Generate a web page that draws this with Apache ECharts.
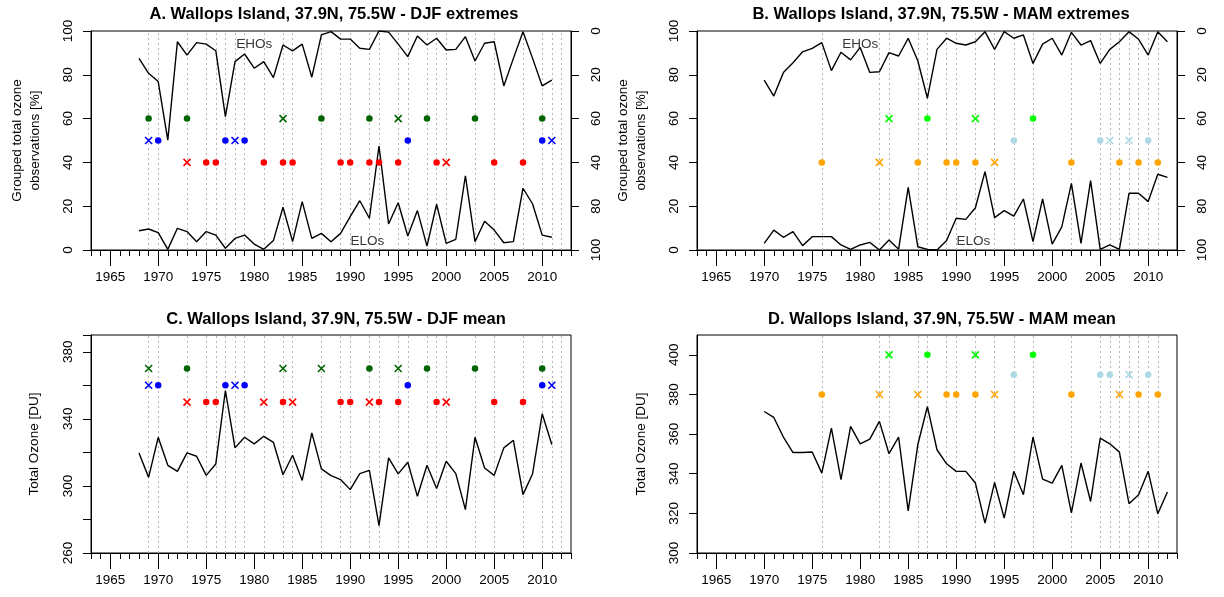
<!DOCTYPE html>
<html>
<head>
<meta charset="utf-8">
<script src="https://cdn.jsdelivr.net/npm/echarts@6/dist/echarts.min.js"></script>
<style>
html, body { margin: 0; padding: 0; background: #fff; }
#chart { width: 1224px; height: 597px; }
</style>
</head>
<body>
<div id="chart"></div>
<script>
// ---- Wallops Island total ozone: seasonal extremes and means ----

// Winter (DJF) seasons
const djfYears = [1968, 1969, 1970, 1971, 1972, 1973, 1974, 1975, 1976, 1977, 1978, 1979, 1980, 1981, 1982,
  1983, 1984, 1985, 1986, 1987, 1988, 1989, 1990, 1991, 1992, 1993, 1994, 1995, 1996, 1997, 1998, 1999,
  2000, 2001, 2002, 2003, 2004, 2005, 2006, 2007, 2008, 2009, 2010, 2011];
// extreme high ozone days, % (read on the inverted right-hand axis)
const djfEho = [12.5, 19.3, 23.1, 49.8, 4.9, 11, 5.3, 6, 9, 39.1, 14, 10.5, 17, 14, 21.3,
  6.4, 9.1, 6, 21.1, 1.8, 0.3, 3.7, 3.7, 7.9, 8.4, 0, 0.5, 6, 11.7, 2.3, 6.4, 3.3,
  8.7, 8.4, 2.6, 13.7, 5.6, 4.9, 25.1, 12.5, 0.3, 12.5, 25.1, 22.4];
// extreme low ozone days, %
const djfElo = [8.8, 9.6, 7.9, 0.3, 9.9, 8.4, 3.8, 8.4, 6.8, 0.8, 5.3, 6.8, 2.7, 0.3, 4.3,
  19.5, 3.8, 22.1, 5.3, 7.6, 3.8, 7.6, 15.2, 22.5, 14.5, 47.5, 11.9, 21.6, 6.4, 18.0, 1.8, 20.9,
  3.0, 4.9, 33.9, 3.8, 13.1, 9.1, 3.3, 3.8, 28.2, 21, 6.8, 5.8];
// seasonal mean total ozone, DU
const djfMean = [319.7, 305.1, 329, 312.3, 308.7, 319.7, 317.7, 306.3, 313.1, 356.9, 322.7, 329, 325.1, 329.6, 326,
  306.7, 318.3, 303.3, 331.6, 310.2, 306.1, 303.8, 297.8, 307.3, 309.3, 276.3, 316.7, 307.2, 314.1, 293.8, 312.3, 298.4,
  314.7, 307.3, 285.9, 329, 310.7, 306.3, 322.7, 327.2, 294.8, 307.3, 343, 324.7];

// Spring (MAM) seasons
const mamYears = [1970, 1971, 1972, 1973, 1974, 1975, 1976, 1977, 1978, 1979, 1980, 1981, 1982, 1983, 1984,
  1985, 1986, 1987, 1988, 1989, 1990, 1991, 1992, 1993, 1994, 1995, 1996, 1997, 1998, 1999,
  2000, 2001, 2002, 2003, 2004, 2005, 2006, 2007, 2008, 2009, 2010, 2011, 2012];
const mamEho = [22.4, 29.7, 19, 14.5, 9.5, 7.9, 5.3, 18.1, 9.7, 13.2, 7.5, 18.9, 18.6, 9.9, 11.4,
  3.3, 13.6, 30.7, 8.4, 3.3, 5.6, 6.4, 4.9, 0.3, 8.4, 0.3, 3.3, 1.8, 14.8, 6,
  3.3, 11, 0.6, 6.4, 4.4, 14.8, 8.4, 4.9, 0.3, 3.8, 11, 0.3, 4.9];
const mamElo = [3.0, 9.1, 5.8, 8.4, 2.0, 6.1, 6.1, 6.1, 2.3, 0.3, 2.3, 3.5, 0, 4.6, 0.3,
  28.6, 1.5, 0.3, 0, 4.3, 14.5, 14.0, 19.3, 35.8, 14.8, 18.0, 15.5, 23.3, 3.8, 23.3,
  2.7, 10.6, 30.4, 3.0, 31.7, 0.3, 2.3, 0.3, 25.9, 25.9, 22.1, 34.6, 33.2];
const mamMean = [371.4, 368.4, 358.5, 350.7, 350.7, 351, 340.3, 363, 337, 363.9, 355.1, 357.5, 366.4, 350.1, 358.5,
  321.3, 354.6, 373.9, 352.1, 345, 341.2, 341.2, 335.3, 315.1, 335.6, 317.6, 341.2, 329.4, 358.5, 337.3,
  335.3, 344.2, 320.2, 345.4, 326, 358, 355.1, 350.9, 324.9, 329.4, 341.2, 319.8, 330.8];

// Event years (dots = event, crosses = weaker signal)
const djfA = {
  greenDot: [1969, 1973, 1987, 1992, 1998, 2003, 2010], greenX: [1983, 1995],
  blueDot: [1970, 1977, 1979, 1996, 2010], blueX: [1969, 1978, 2011],
  redDot: [1975, 1976, 1981, 1983, 1984, 1989, 1990, 1992, 1993, 1995, 1999, 2005, 2008], redX: [1973, 2000]
};
const djfC = {
  greenDot: [1973, 1992, 1998, 2003, 2010], greenX: [1969, 1983, 1987, 1995],
  blueDot: [1970, 1977, 1979, 1996, 2010], blueX: [1969, 1978, 2011],
  redDot: [1975, 1976, 1983, 1989, 1990, 1993, 1995, 1999, 2005, 2008], redX: [1973, 1981, 1984, 1992, 2000]
};
const mamB = {
  greenDot: [1987, 1998], greenX: [1983, 1992],
  lblueDot: [1996, 2005, 2010], lblueX: [2006, 2008],
  orangeDot: [1976, 1986, 1989, 1990, 1992, 2002, 2007, 2009, 2011], orangeX: [1982, 1994]
};
const mamD = {
  greenDot: [1987, 1998], greenX: [1983, 1992],
  lblueDot: [1996, 2005, 2006, 2010], lblueX: [2008],
  orangeDot: [1976, 1989, 1990, 1992, 2002, 2009, 2011], orangeX: [1982, 1986, 1994, 2007]
};
// vertical guide years
const djfGuideYears = [1969, 1970, 1973, 1975, 1976, 1977, 1978, 1979, 1981, 1983, 1984, 1987, 1989, 1990,
  1992, 1993, 1995, 1996, 1998, 1999, 2000, 2003, 2005, 2008, 2010, 2011, 2012];
const mamGuideYears = [1976, 1982, 1983, 1986, 1987, 1989, 1990, 1992, 1994, 1996, 1998, 2002, 2005, 2006,
  2007, 2008, 2009, 2010, 2011];

const majorYears = [1965, 1970, 1975, 1980, 1985, 1990, 1995, 2000, 2005, 2010];
const rightTickLabels = { 0: '0', 20: '20', 40: '60', 60: '40', 80: '80', 100: '100' };
const cLabelled = [260, 300, 340, 380];

const titles = [
  'A. Wallops Island, 37.9N, 75.5W - DJF extremes',
  'B. Wallops Island, 37.9N, 75.5W - MAM extremes',
  'C. Wallops Island, 37.9N, 75.5W - DJF mean',
  'D. Wallops Island, 37.9N, 75.5W - MAM mean'
];

// ---- layout & styling ----
const FONT = 'Liberation Sans, Arial, Helvetica, sans-serif';
const FS = 13.5;
const grids = [
  { left: 91, top: 31, width: 480, height: 219 },
  { left: 697, top: 31, width: 480, height: 219 },
  { left: 91, top: 335, width: 480, height: 218 },
  { left: 697, top: 335, width: 480, height: 218 }
];
const COL = {
  darkgreen: '#006400', blue: '#0000ff', red: '#ff0000',
  green: '#00ff00', lblue: '#add8e6', orange: '#ffa500'
};
const CROSS = 'path://M0,0L10,10M0,10L10,0';
const blackLine = { color: '#000', width: 1 };

function xAxesFor(gi) {
  return [
    {
      type: 'value', gridIndex: gi, position: 'bottom', min: 1963, max: 2013, interval: 1,
      axisLine: { show: true, onZero: false, lineStyle: blackLine },
      axisTick: { show: true, length: 6, lineStyle: blackLine },
      axisLabel: { show: false }, splitLine: { show: false }
    },
    {
      type: 'value', gridIndex: gi, position: 'bottom', offset: 0, min: 1963, max: 2013,
      axisLine: { show: false, onZero: false },
      axisTick: { show: true, length: 16, customValues: majorYears, lineStyle: blackLine },
      axisLabel: {
        show: true, customValues: majorYears, margin: 20, fontSize: FS, color: '#000', fontFamily: FONT,
        formatter: v => String(v)
      },
      splitLine: { show: false }
    }
  ];
}

function yAxis(gi, o) {
  return Object.assign({
    type: 'value', gridIndex: gi, position: 'left',
    axisLine: { show: true, onZero: false, lineStyle: blackLine },
    axisTick: { show: true, length: 8, lineStyle: blackLine },
    axisLabel: { rotate: 90, margin: 16, fontSize: FS, color: '#000', fontFamily: FONT },
    splitLine: { show: false },
    nameLocation: 'middle', nameRotate: 90,
    nameTextStyle: { fontSize: FS, color: '#000', fontFamily: FONT, lineHeight: 18 }
  }, o);
}

const xAxes = [].concat(xAxesFor(0), xAxesFor(1), xAxesFor(2), xAxesFor(3));

const pctName = 'Grouped total ozone\nobservations [%]';
const yAxes = [
  // A left / right
  yAxis(0, { min: 0, max: 100, interval: 20, name: pctName, nameGap: 47 }),
  yAxis(0, {
    min: 0, max: 100, interval: 20, position: 'right', inverse: true,
    axisLabel: { rotate: 90, margin: 18, fontSize: FS, color: '#000', fontFamily: FONT,
      formatter: v => rightTickLabels[v] }
  }),
  // B left / right
  yAxis(1, { min: 0, max: 100, interval: 20, name: pctName, nameGap: 47 }),
  yAxis(1, {
    min: 0, max: 100, interval: 20, position: 'right', inverse: true,
    axisLabel: { rotate: 90, margin: 18, fontSize: FS, color: '#000', fontFamily: FONT,
      formatter: v => rightTickLabels[v] }
  }),
  // C
  yAxis(2, {
    min: 260, max: 390, interval: 20, name: 'Total Ozone [DU]', nameGap: 48,
    axisLabel: { rotate: 90, margin: 16, fontSize: FS, color: '#000', fontFamily: FONT,
      formatter: v => (cLabelled.indexOf(v) >= 0 ? String(v) : '') }
  }),
  // D
  yAxis(3, { min: 300, max: 410, interval: 20, name: 'Total Ozone [DU]', nameGap: 47 })
];

// ---- series helpers ----
const pairs = (xs, ys) => xs.map((x, i) => [x, ys[i]]);

function guides(xi, yi, yrs) {
  return {
    type: 'line', xAxisIndex: xi, yAxisIndex: yi, data: [], z: 1, silent: true,
    markLine: {
      z: 1, silent: true, symbol: ['none', 'none'], label: { show: false },
      lineStyle: { color: '#b4b4b4', type: [2, 3], width: 1 },
      emphasis: { disabled: true },
      data: yrs.map(y => ({ xAxis: y }))
    }
  };
}
function curve(xi, yi, data) {
  return {
    type: 'line', xAxisIndex: xi, yAxisIndex: yi, data, showSymbol: false, z: 3,
    lineStyle: { color: '#000', width: 1.4 }, silent: true
  };
}
function dots(xi, yi, yrs, level, color) {
  return {
    type: 'scatter', xAxisIndex: xi, yAxisIndex: yi, symbol: 'circle', symbolSize: 6.5, z: 6,
    itemStyle: { color, opacity: 1 }, data: yrs.map(y => [y, level]), silent: true
  };
}
function crosses(xi, yi, yrs, level, color) {
  return {
    type: 'scatter', xAxisIndex: xi, yAxisIndex: yi, symbol: CROSS, symbolSize: 7, z: 6,
    itemStyle: { color: 'rgba(0,0,0,0)', borderColor: color, borderWidth: 1.6, opacity: 1 },
    data: yrs.map(y => [y, level]), silent: true
  };
}
function tag(xi, yi, x, y, text) {
  return {
    type: 'scatter', xAxisIndex: xi, yAxisIndex: yi, symbolSize: 0, z: 7, silent: true,
    data: [[x, y]],
    label: { show: true, position: 'inside', formatter: text, fontSize: FS, color: '#000', fontFamily: FONT }
  };
}

const series = [
  // A: DJF extremes (x axis 0, left y 0, right y 1)
  guides(0, 0, djfGuideYears),
  curve(0, 1, pairs(djfYears, djfEho)),
  curve(0, 0, pairs(djfYears, djfElo)),
  dots(0, 0, djfA.greenDot, 60, COL.darkgreen), crosses(0, 0, djfA.greenX, 60, COL.darkgreen),
  dots(0, 0, djfA.blueDot, 50, COL.blue), crosses(0, 0, djfA.blueX, 50, COL.blue),
  dots(0, 0, djfA.redDot, 40, COL.red), crosses(0, 0, djfA.redX, 40, COL.red),
  tag(0, 0, 1980, 94, 'EHOs'), tag(0, 0, 1991.8, 4.2, 'ELOs'),

  // B: MAM extremes (x axis 2, left y 2, right y 3)
  guides(2, 2, mamGuideYears),
  curve(2, 3, pairs(mamYears, mamEho)),
  curve(2, 2, pairs(mamYears, mamElo)),
  dots(2, 2, mamB.greenDot, 60, COL.green), crosses(2, 2, mamB.greenX, 60, COL.green),
  dots(2, 2, mamB.lblueDot, 50, COL.lblue), crosses(2, 2, mamB.lblueX, 50, COL.lblue),
  dots(2, 2, mamB.orangeDot, 40, COL.orange), crosses(2, 2, mamB.orangeX, 40, COL.orange),
  tag(2, 2, 1980, 94, 'EHOs'), tag(2, 2, 1991.8, 4.2, 'ELOs'),

  // C: DJF mean (x axis 4, y 4)
  guides(4, 4, djfGuideYears),
  curve(4, 4, pairs(djfYears, djfMean)),
  dots(4, 4, djfC.greenDot, 370, COL.darkgreen), crosses(4, 4, djfC.greenX, 370, COL.darkgreen),
  dots(4, 4, djfC.blueDot, 360, COL.blue), crosses(4, 4, djfC.blueX, 360, COL.blue),
  dots(4, 4, djfC.redDot, 350, COL.red), crosses(4, 4, djfC.redX, 350, COL.red),

  // D: MAM mean (x axis 6, y 5)
  guides(6, 5, mamGuideYears),
  curve(6, 5, pairs(mamYears, mamMean)),
  dots(6, 5, mamD.greenDot, 400, COL.green), crosses(6, 5, mamD.greenX, 400, COL.green),
  dots(6, 5, mamD.lblueDot, 390, COL.lblue), crosses(6, 5, mamD.lblueX, 390, COL.lblue),
  dots(6, 5, mamD.orangeDot, 380, COL.orange), crosses(6, 5, mamD.orangeX, 380, COL.orange)
];

const titlePos = [
  { left: 329, top: 1 }, { left: 936, top: 1 }, { left: 331, top: 306 }, { left: 937, top: 306 }
];

const chart = echarts.init(document.getElementById('chart'), null, { renderer: 'canvas' });
chart.setOption({
  animation: false,
  backgroundColor: '#fff',
  title: titles.map((t, i) => ({
    text: t, left: titlePos[i].left, top: titlePos[i].top, textAlign: 'center',
    textStyle: { fontSize: 16.5, fontWeight: 'bold', color: '#000', fontFamily: FONT }
  })),
  grid: grids.map(g => Object.assign({ show: true, borderColor: '#000', borderWidth: 1, backgroundColor: 'transparent' }, g)),
  xAxis: xAxes,
  yAxis: yAxes,
  series
});
</script>
</body>
</html>
